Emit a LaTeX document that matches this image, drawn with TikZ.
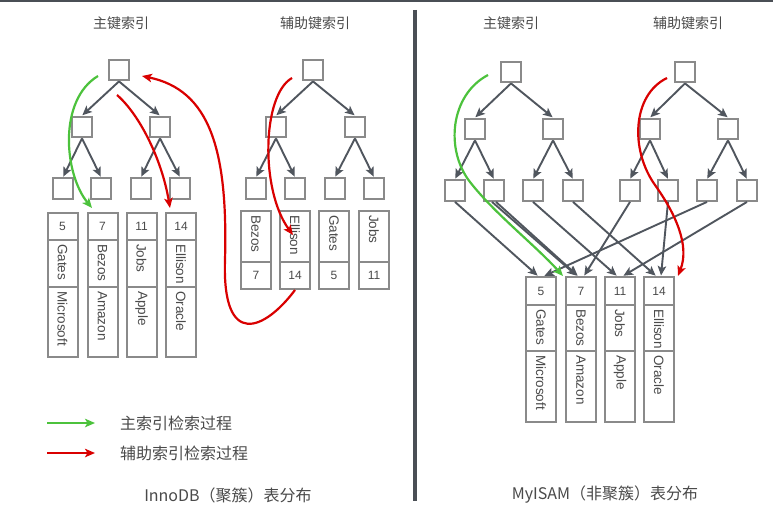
\documentclass[tikz,border=0pt]{standalone}
\usepackage{fontspec}
\setmainfont{Liberation Sans}
\newfontfamily\cjk{Noto Sans CJK SC}
\usetikzlibrary{arrows.meta}
\definecolor{boxgray}{HTML}{8A8A8A}
\definecolor{arrgray}{HTML}{50565E}
\definecolor{txtgray}{HTML}{4A4A4A}
\definecolor{mygreen}{HTML}{4CC23C}
\definecolor{myred}{HTML}{D90000}
\definecolor{divgray}{HTML}{4A4F55}
\tikzset{
  tbox/.style={draw=boxgray, line width=2.3pt, fill=white, minimum size=20.5pt, inner sep=0pt},
  tarrow/.style={draw=arrgray, line width=1.9pt, -{Stealth[length=9.5pt,width=8.5pt,inset=2.2pt]}, shorten >=0.5pt},
  cell/.style={draw=boxgray, line width=2pt, fill=white, inner sep=0pt, minimum width=30pt},
  keycell/.style={cell, font=\fontsize{12}{12}\selectfont, text=txtgray},
  rtext/.style={rotate=-90, anchor=west, inner sep=0pt, font=\fontsize{13.5}{13.5}\selectfont, text=txtgray},
  ttl/.style={font=\cjk\fontsize{14}{14}\selectfont, text=txtgray, inner sep=0pt},
  legtxt/.style={font=\cjk\fontsize{16}{16}\selectfont, text=txtgray, inner sep=0pt},
  greenarr/.style={draw=mygreen, line width=2.2pt, -{Stealth[length=10pt,width=8.5pt,inset=2.5pt]}},
  redarr/.style={draw=myred, line width=2.2pt, -{Stealth[length=10pt,width=8.5pt,inset=2.5pt]}},
}
% tree: prefix, root x, left x, right x, leaf1..leaf4 x, root y
\newcommand{\mktree}[9]{%
  \node[tbox] (#1R) at (#2,#9) {};
  \node[tbox] (#1A) at (#3,#9+57) {};
  \node[tbox] (#1B) at (#4,#9+57) {};
  \node[tbox] (#11) at (#5,#9+118.5) {};
  \node[tbox] (#12) at (#6,#9+118.5) {};
  \node[tbox] (#13) at (#7,#9+118.5) {};
  \node[tbox] (#14) at (#8,#9+118.5) {};
  \draw[tarrow] (#1R.south) -- (#1A.north);
  \draw[tarrow] (#1R.south) -- (#1B.north);
  \draw[tarrow] (#1A.south) -- (#11.north);
  \draw[tarrow] (#1A.south) -- (#12.north);
  \draw[tarrow] (#1B.south) -- (#13.north);
  \draw[tarrow] (#1B.south) -- (#14.north);
}
\newcommand{\innorec}[5]{%
  \node[keycell, minimum height=27pt] (#1k) at (#2,226.5) {#3};
  \node[cell, minimum height=47pt] (#1n) at (#2,263.5) {};
  \node[cell, minimum height=70pt] (#1c) at (#2,322) {};
  \node[rtext] (#1nt) at ([yshift=-5pt]#1n.north) {#4};
  \node[rtext] (#1ct) at ([yshift=-5pt]#1c.north) {#5};
}
\newcommand{\secrec}[4]{%
  \node[cell, minimum height=51pt] (#1n) at (#2,236.5) {};
  \node[keycell, minimum height=27pt] (#1k) at (#2,275.5) {#4};
  \node[rtext] (#1nt) at ([yshift=-5pt]#1n.north) {#3};
}
\newcommand{\myrec}[5]{%
  \node[keycell, minimum height=28pt] (#1k) at (#2,291) {#3};
  \node[cell, minimum height=46pt] (#1n) at (#2,328) {};
  \node[cell, minimum height=71pt] (#1c) at (#2,386.5) {};
  \node[rtext] (#1nt) at ([yshift=-5pt]#1n.north) {#4};
  \node[rtext] (#1ct) at ([yshift=-5pt]#1c.north) {#5};
}
\begin{document}
\begin{tikzpicture}[x=1pt,y=-1pt]
\useasboundingbox (0,0) rectangle (773,511);
\fill[white] (0,0) rectangle (773,511);
% top rule and divider
\fill[divgray] (0,0) rectangle (773,2.5);
\coordinate (dtop) at (415,10);
\coordinate (dbot) at (415,501);
\draw[divgray, line width=3.5pt] (dtop) -- (dbot);

% titles
\node[ttl] (t1) at (121,23) {主键索引};
\node[ttl] (t2) at (315,23) {辅助键索引};
\node[ttl] (t3) at (511,23) {主键索引};
\node[ttl] (t4) at (688,23) {辅助键索引};

% InnoDB trees
\mktree{p}{119}{82}{160}{63}{101}{141}{180}{70}
\mktree{s}{313}{276}{355}{256}{295}{335}{374}{70}
% InnoDB records
\innorec{ia}{62.5}{5}{Gates}{Microsoft}
\innorec{ib}{102.5}{7}{Bezos}{Amazon}
\innorec{ic}{141.5}{11}{Jobs}{Apple}
\innorec{id}{181}{14}{Ellison}{Oracle}
\secrec{sa}{256}{Bezos}{7}
\secrec{sb}{295}{Ellison}{14}
\secrec{sc}{334}{Gates}{5}
\secrec{sd}{374}{Jobs}{11}

% MyISAM trees
\mktree{m}{511}{475}{553}{455}{494}{533}{573}{72}
\mktree{n}{685}{650}{728}{630}{668}{707}{747}{72}
% MyISAM records
\myrec{ra}{541}{5}{Gates}{Microsoft}
\myrec{rb}{581}{7}{Bezos}{Amazon}
\myrec{rc}{620}{11}{Jobs}{Apple}
\myrec{rd}{659}{14}{Ellison}{Oracle}
% leaf -> record pointers
\draw[tarrow] (m1.south) -- ([xshift=-3pt]rak.north);
\draw[tarrow] ([xshift=-2pt]m2.south) -- ([xshift=-4pt]rbk.north);
\draw[tarrow] ([xshift=2pt]m2.south) -- ([xshift=-3pt]rbk.north);
\draw[tarrow] (m3.south) -- ([xshift=-3pt]rck.north);
\draw[tarrow] (m4.south) -- ([xshift=-3pt]rdk.north);
\draw[tarrow] (n1.south) -- ([xshift=3pt]rbk.north);
\draw[tarrow] (n2.south) -- ([xshift=2pt]rdk.north);
\draw[tarrow] (n3.south) -- ([xshift=3pt]rak.north);
\draw[tarrow] (n4.south) -- ([xshift=3pt]rck.north);

% InnoDB search paths
\coordinate (g1s) at (98,76);
\coordinate (g1e) at (92,208);
\draw[greenarr] (g1s) .. controls (58,100) and (64,174) .. (g1e);
\coordinate (r1s) at (117,95);
\coordinate (r1e) at (170,208);
\draw[redarr] (r1s) .. controls (140,115) and (162,160) .. (r1e);
\coordinate (r2s) at (292,78);
\coordinate (r2e) at (293,235);
\draw[redarr] (r2s) .. controls (262,95) and (260,190) .. (r2e);
\coordinate (r3s) at (295,290);
\coordinate (r3m) at (225,260);
\coordinate (r3e) at (142,76);
\draw[redarr] (r3s) .. controls (265,330) and (222,350) .. (r3m) .. controls (228,150) and (210,90) .. (r3e);

% MyISAM search paths
\coordinate (g2s) at (488,75);
\coordinate (g2m) at (470,182);
\coordinate (g2e) at (563,276);
\draw[greenarr] (g2s) .. controls (450,95) and (445,150) .. (g2m) .. controls (495,214) and (535,245) .. (g2e);
\coordinate (r4s) at (667,78);
\coordinate (r4m) at (655,185);
\coordinate (r4e) at (678,276);
\draw[redarr] (r4s) .. controls (632,95) and (630,150) .. (r4m) .. controls (675,213) and (690,245) .. (r4e);

% legend
\node[legtxt, anchor=west] (leg1) at (120,423) {主索引检索过程};
\node[legtxt, anchor=west] (leg2) at (120,453) {辅助索引检索过程};
\coordinate (lg1) at (47,423);
\coordinate (lg2) at (47,453);
\draw[greenarr] (lg1) -- ([xshift=-25pt]leg1.west);
\draw[redarr] (lg2) -- ([xshift=-25pt]leg2.west);

% captions
\node[legtxt] (cap1) at (228,495) {InnoDB（聚簇）表分布};
\node[legtxt] (cap2) at (605,495) {MyISAM（非聚簇）表分布};
\end{tikzpicture}
\end{document}
